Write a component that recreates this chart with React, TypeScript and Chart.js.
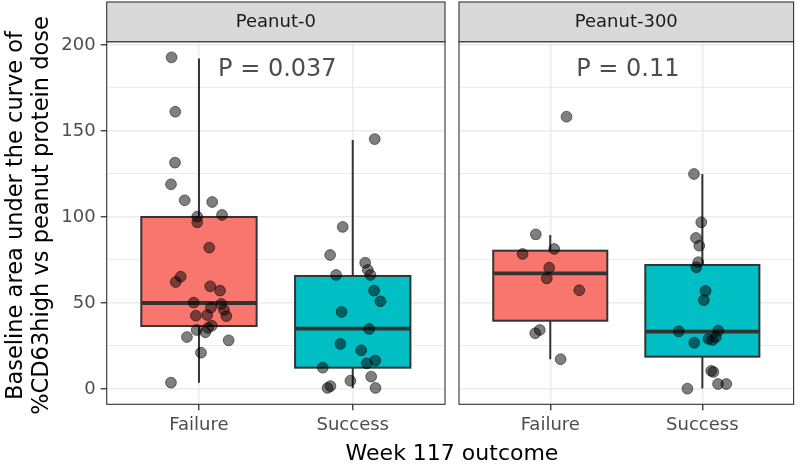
import React, { useEffect, useRef } from 'react';
import { Chart, registerables } from 'chart.js';

Chart.register(...registerables);

// ---------- data ----------
const FACETS = ['Peanut-0', 'Peanut-300'];
const CATEGORIES = ['Failure', 'Success'];
const P_LABELS = ['P = 0.037', 'P = 0.11'];
const P_LABEL_Y = 185.5;
const Y_MAJOR = [0, 50, 100, 150, 200];
const Y_MINOR = [25, 75, 125, 175];
const Y_TITLE = ['Baseline area under the curve of', '%CD63high vs peanut protein dose'];
const X_TITLE = 'Week 117 outcome';

// box stats: [lower whisker, Q1, median, Q3, upper whisker]
const P0_FAILURE_BOX = [3.7, 36.6, 50.0, 100.0, 192.2];
const P0_SUCCESS_BOX = [0.5, 12.4, 35.1, 65.7, 144.8];
const P300_FAILURE_BOX = [17.3, 39.7, 67.2, 80.4, 89.5];
const P300_SUCCESS_BOX = [0.3, 18.8, 33.3, 72.1, 125.0];

// jittered points: values and horizontal jitter (category units)
const P0_FAILURE_VALUES = [192.8, 161.2, 131.6, 119.0, 109.7, 108.7, 101.2, 100.2, 96.9, 82.2, 65.3, 62.2, 59.7, 57.2, 50.2, 47.3, 49.4, 45.9, 42.4, 42.6, 43.0, 36.8, 35.5, 34.3, 33.0, 30.2, 28.3, 21.1, 3.7];
const P0_FAILURE_JITTER = [-0.178, -0.154, -0.156, -0.182, -0.093, 0.086, 0.150, -0.011, -0.011, 0.067, -0.119, -0.151, 0.073, 0.137, -0.034, 0.078, 0.145, 0.163, 0.178, -0.020, 0.054, 0.083, 0.059, -0.015, 0.041, -0.078, 0.193, 0.013, -0.182];

const P0_SUCCESS_VALUES = [145.3, 94.2, 77.9, 73.4, 69.2, 66.3, 66.3, 57.2, 51.0, 44.8, 34.9, 26.2, 22.5, 16.5, 14.9, 12.4, 7.2, 4.8, 1.7, 0.6, 0.6];
const P0_SUCCESS_JITTER = [0.143, -0.065, -0.147, 0.081, 0.098, -0.108, 0.115, 0.139, 0.180, -0.073, 0.107, -0.080, 0.055, 0.146, 0.091, -0.195, 0.120, -0.015, -0.145, -0.164, 0.148];

const P300_FAILURE_VALUES = [158.3, 89.9, 81.4, 78.5, 70.5, 64.3, 57.4, 34.3, 32.4, 17.3];
const P300_FAILURE_JITTER = [0.107, -0.095, 0.026, -0.182, -0.007, -0.023, 0.191, -0.069, -0.099, 0.068];

const P300_SUCCESS_VALUES = [125.0, 96.9, 87.8, 83.3, 73.7, 70.8, 57.0, 51.7, 33.5, 33.9, 26.9, 29.1, 28.5, 30.1, 10.5, 9.9, 2.9, 2.9, 0.2];
const P300_SUCCESS_JITTER = [-0.055, -0.007, -0.042, -0.020, -0.027, -0.040, 0.021, 0.010, -0.155, 0.105, -0.053, 0.040, 0.066, 0.088, 0.058, 0.073, 0.103, 0.157, -0.098];

const BOXES = [
  [P0_FAILURE_BOX, P0_SUCCESS_BOX],
  [P300_FAILURE_BOX, P300_SUCCESS_BOX],
];
const POINTS = [
  [[P0_FAILURE_VALUES, P0_FAILURE_JITTER], [P0_SUCCESS_VALUES, P0_SUCCESS_JITTER]],
  [[P300_FAILURE_VALUES, P300_FAILURE_JITTER], [P300_SUCCESS_VALUES, P300_SUCCESS_JITTER]],
];

// ---------- style / layout ----------
const W = 800;
const H = 464;
const FONT = 'DejaVu Sans';
const FILLS = ['#F8766D', '#00BFC4'];
const Y_MIN = -8.9;
const Y_MAX = 201.9;
const X_MIN = 0.4;
const X_MAX = 2.6;
const BOX_WIDTH = 0.75;
const PANELS = [
  { left: 106.7, right: 445 },
  { left: 459, right: 797.3 },
];
const PANEL_TOP = 41.7;
const PANEL_BOTTOM = 404.3;
const STRIP_TOP = 2;

function makeConfig(f: number): any {
  const isLeft = f === 0;
  const panel = PANELS[f];
  const allTicks = [...Y_MAJOR, ...Y_MINOR].sort((a, b) => a - b);
  const isMajor = (v: number) => Y_MAJOR.includes(v);

  const facetPlugin = {
    id: 'facet' + f,
    beforeDatasetsDraw(chart: any) {
      const ctx = chart.ctx;
      const xs = chart.scales.x;
      const ys = chart.scales.y;
      BOXES[f].forEach((b: number[], i: number) => {
        const c = i + 1;
        const cx = xs.getPixelForValue(c);
        const x0 = xs.getPixelForValue(c - BOX_WIDTH / 2);
        const x1 = xs.getPixelForValue(c + BOX_WIDTH / 2);
        const [lo, q1, med, q3, hi] = b.map((v) => ys.getPixelForValue(v));
        ctx.save();
        ctx.strokeStyle = '#333333';
        ctx.lineWidth = 2;
        ctx.beginPath();
        ctx.moveTo(cx, q3);
        ctx.lineTo(cx, hi);
        ctx.moveTo(cx, q1);
        ctx.lineTo(cx, lo);
        ctx.stroke();
        ctx.fillStyle = FILLS[i];
        ctx.fillRect(x0, q3, x1 - x0, q1 - q3);
        ctx.strokeRect(x0, q3, x1 - x0, q1 - q3);
        ctx.lineWidth = 3.8;
        ctx.beginPath();
        ctx.moveTo(x0, med);
        ctx.lineTo(x1, med);
        ctx.stroke();
        ctx.restore();
      });
    },
    afterDatasetsDraw(chart: any) {
      const ctx = chart.ctx;
      const a = chart.chartArea;
      const xs = chart.scales.x;
      const ys = chart.scales.y;
      ctx.save();
      // panel border
      ctx.strokeStyle = '#333333';
      ctx.lineWidth = 1.1;
      ctx.strokeRect(a.left, a.top, a.right - a.left, a.bottom - a.top);
      // strip
      ctx.fillStyle = '#D9D9D9';
      ctx.fillRect(a.left, STRIP_TOP, a.right - a.left, a.top - STRIP_TOP);
      ctx.strokeRect(a.left, STRIP_TOP, a.right - a.left, a.top - STRIP_TOP);
      ctx.fillStyle = '#1A1A1A';
      ctx.font = `18px "${FONT}"`;
      ctx.textAlign = 'center';
      ctx.textBaseline = 'middle';
      ctx.fillText(FACETS[f], (a.left + a.right) / 2, (STRIP_TOP + a.top) / 2 + 0.5);
      // p value
      ctx.fillStyle = '#4D4D4D';
      ctx.font = `24px "${FONT}"`;
      ctx.fillText(P_LABELS[f], xs.getPixelForValue(1.5) + 1.5, ys.getPixelForValue(P_LABEL_Y));
      ctx.restore();
    },
    afterDraw(chart: any) {
      if (!isLeft) return;
      const ctx = chart.ctx;
      ctx.save();
      ctx.fillStyle = '#000000';
      ctx.font = `22px "${FONT}"`;
      ctx.textAlign = 'center';
      ctx.textBaseline = 'alphabetic';
      ctx.fillText(X_TITLE, (PANELS[0].left + PANELS[1].right) / 2, 460);
      ctx.font = `22.5px "${FONT}"`;
      Y_TITLE.forEach((line, i) => {
        ctx.save();
        ctx.translate(21.7 + i * 26.5, 215.5);
        ctx.rotate(-Math.PI / 2);
        ctx.fillText(line, 0, 0);
        ctx.restore();
      });
      ctx.restore();
    },
  };

  return {
    type: 'scatter',
    data: {
      datasets: CATEGORIES.map((cat, i) => ({
        label: cat,
        data: POINTS[f][i][0].map((v: number, k: number) => ({ x: i + 1 + POINTS[f][i][1][k], y: v })),
        pointRadius: 5.4,
        pointHoverRadius: 5.4,
        borderWidth: 1,
        backgroundColor: 'rgba(0,0,0,0.5)',
        borderColor: 'rgba(0,0,0,0.5)',
      })),
    },
    options: {
      responsive: false,
      animation: false,
      events: [],
      layout: {
        padding: { left: isLeft ? 0 : panel.left, right: W - panel.right, top: PANEL_TOP, bottom: 0 },
      },
      plugins: { legend: { display: false }, tooltip: { enabled: false }, title: { display: false } },
      scales: {
        x: {
          type: 'linear',
          min: X_MIN,
          max: X_MAX,
          afterBuildTicks: (s: any) => {
            s.ticks = CATEGORIES.map((_, i) => ({ value: i + 1 }));
          },
          afterFit: (s: any) => {
            s.height = H - PANEL_BOTTOM;
          },
          ticks: {
            autoSkip: false,
            maxRotation: 0,
            padding: 4,
            color: '#4D4D4D',
            font: { family: FONT, size: 18 },
            callback: (_v: any, idx: number) => CATEGORIES[idx],
          },
          grid: {
            color: '#EBEBEB',
            lineWidth: 1.5,
            tickColor: '#333333',
            tickLength: 6,
            tickWidth: 1.3,
          },
          border: { display: false },
        },
        y: {
          type: 'linear',
          min: Y_MIN,
          max: Y_MAX,
          afterBuildTicks: (s: any) => {
            s.ticks = allTicks.map((v) => ({ value: v }));
          },
          afterFit: (s: any) => {
            s.width = isLeft ? panel.left : 0;
          },
          ticks: {
            display: isLeft,
            autoSkip: false,
            padding: 5,
            color: '#4D4D4D',
            font: { family: FONT, size: 18 },
            callback: (v: number) => (isMajor(v) ? String(v) : ''),
          },
          grid: {
            color: '#EBEBEB',
            lineWidth: (c: any) => (c.tick && isMajor(c.tick.value) ? 1.5 : 1),
            drawTicks: isLeft,
            tickColor: (c: any) => (c.tick && isMajor(c.tick.value) ? '#333333' : 'rgba(0,0,0,0)'),
            tickLength: 6,
            tickWidth: 1.3,
          },
          border: { display: false },
        },
      },
    },
    plugins: [facetPlugin],
  };
}

export default function App() {
  const leftRef = useRef<HTMLCanvasElement>(null);
  const rightRef = useRef<HTMLCanvasElement>(null);

  useEffect(() => {
    document.body.style.margin = '0';
    const charts: Chart[] = [];
    if (leftRef.current) charts.push(new Chart(leftRef.current, makeConfig(0)));
    if (rightRef.current) charts.push(new Chart(rightRef.current, makeConfig(1)));
    return () => charts.forEach((c) => c.destroy());
  }, []);

  const canvasStyle: React.CSSProperties = { position: 'absolute', left: 0, top: 0, display: 'block' };
  return (
    <div style={{ position: 'relative', width: W, height: H, background: '#ffffff' }}>
      <canvas ref={leftRef} width={W} height={H} style={canvasStyle} />
      <canvas ref={rightRef} width={W} height={H} style={canvasStyle} />
    </div>
  );
}
